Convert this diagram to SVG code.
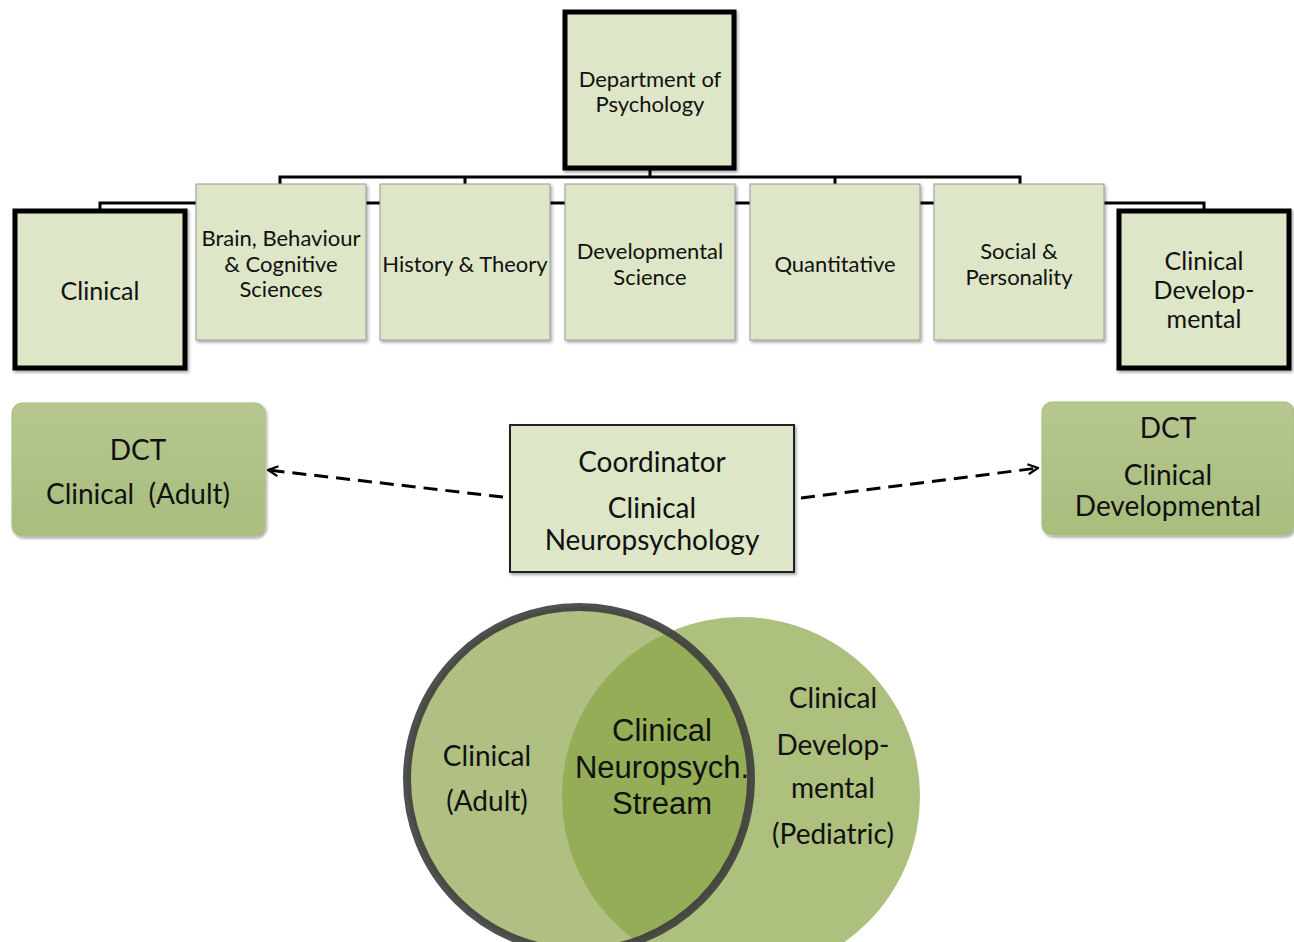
<svg xmlns="http://www.w3.org/2000/svg" width="1294" height="942" viewBox="0 0 1294 942">
<style>
.t{font-family:Lato,"Open Sans","Liberation Sans",sans-serif;fill:#111;text-anchor:middle}
.s20{font-size:22px}
.s22{font-size:25px}
.s24{font-size:28px}
.s26{font-size:28px}
.ar{font-family:"Liberation Sans",Arial,sans-serif;font-size:31px;fill:#111;text-anchor:middle}
.light{fill:#dde6c6;stroke:#9a9a9a;stroke-width:1}
.bold{fill:#dde6c6;stroke:#000;stroke-width:5}
.dct{fill:url(#g1);stroke:#a9bd80;stroke-width:1}
.conn{fill:none;stroke:#000;stroke-width:3}
.dash{fill:none;stroke:#000;stroke-width:3;stroke-dasharray:14 8}
</style>
<defs>
<filter id="sh" x="-10%" y="-10%" width="130%" height="130%">
<feDropShadow dx="1.5" dy="2" stdDeviation="1.5" flood-color="#000" flood-opacity="0.35"/>
</filter>
<linearGradient id="g1" x1="0" y1="0" x2="0" y2="1">
<stop offset="0" stop-color="#b6c78f"/>
<stop offset="1" stop-color="#a9bd7e"/>
</linearGradient>
<marker id="ah" viewBox="0 0 12 12" refX="11" refY="6" markerWidth="12" markerHeight="12" markerUnits="userSpaceOnUse" orient="auto">
<path d="M1,1 L11,6 L1,11" fill="none" stroke="#000" stroke-width="2.2"/>
</marker>
</defs>
<rect width="1294" height="942" fill="#fff"/>
<g id="connectors">
<path class="conn" d="M650,168 V177 M280,184 V177 H1020 V184 M465,177 V184 M835,177 V184"/>
<path class="conn" d="M100,209 V203 H1204 V209"/>
<path class="dash" d="M503,497 L268,470" marker-end="url(#ah)"/>
<path class="dash" d="M801,498 L1038,468" marker-end="url(#ah)"/>
</g>
<g id="dept">
<rect class="bold" x="565" y="12" width="169" height="156" filter="url(#sh)"/>
<text class="t s20" x="650" y="87">Department of</text>
<text class="t s20" x="650" y="112">Psychology</text>
</g>
<g id="clinical">
<rect class="bold" x="15" y="211" width="170" height="157" filter="url(#sh)"/>
<text class="t s22" x="100" y="300">Clinical</text>
</g>
<g id="bbcs">
<rect class="light" x="196" y="184" width="170" height="156" filter="url(#sh)"/>
<text class="t s20" x="281" y="246">Brain, Behaviour</text>
<text class="t s20" x="281" y="272">&amp; Cognitive</text>
<text class="t s20" x="281" y="297">Sciences</text>
</g>
<g id="history">
<rect class="light" x="380" y="184" width="170" height="156" filter="url(#sh)"/>
<text class="t s20" x="465" y="272">History &amp; Theory</text>
</g>
<g id="devsci">
<rect class="light" x="565" y="184" width="170" height="156" filter="url(#sh)"/>
<text class="t s20" x="650" y="259">Developmental</text>
<text class="t s20" x="650" y="285">Science</text>
</g>
<g id="quant">
<rect class="light" x="750" y="184" width="170" height="156" filter="url(#sh)"/>
<text class="t s20" x="835" y="272">Quantitative</text>
</g>
<g id="social">
<rect class="light" x="934" y="184" width="170" height="156" filter="url(#sh)"/>
<text class="t s20" x="1019" y="259">Social &amp;</text>
<text class="t s20" x="1019" y="285">Personality</text>
</g>
<g id="clindev">
<rect class="bold" x="1119" y="211" width="170" height="157" filter="url(#sh)"/>
<text class="t s22" x="1204" y="270">Clinical</text>
<text class="t s22" x="1204" y="299">Develop-</text>
<text class="t s22" x="1204" y="328">mental</text>
</g>
<g id="dct-adult">
<rect class="dct" x="12" y="403" width="253" height="133" rx="10" filter="url(#sh)"/>
<text class="t s24" x="138" y="460">DCT</text>
<text class="t s24" x="138" y="504" xml:space="preserve">Clinical  (Adult)</text>
</g>
<g id="coord">
<rect x="510" y="425" width="284" height="147" fill="#dde6c6" stroke="#222" stroke-width="2" filter="url(#sh)"/>
<text class="t s24" x="652" y="472">Coordinator</text>
<text class="t s24" x="652" y="518">Clinical</text>
<text class="t s24" x="652" y="550">Neuropsychology</text>
</g>
<g id="dct-dev">
<rect class="dct" x="1042" y="402" width="252" height="133" rx="10" filter="url(#sh)"/>
<text class="t s24" x="1168" y="438">DCT</text>
<text class="t s24" x="1168" y="485">Clinical</text>
<text class="t s24" x="1168" y="516">Developmental</text>
</g>
<g id="venn">
<circle cx="579" cy="779" r="172" fill="#8ba44a" fill-opacity="0.69"/>
<circle cx="741" cy="796" r="179" fill="#88a443" fill-opacity="0.69"/>
<circle cx="579" cy="779" r="172" fill="none" stroke="#3d3d3d" stroke-width="8" stroke-opacity="0.9"/>
<text class="t s26" x="487" y="766">Clinical</text>
<text class="t s26" x="487" y="811">(Adult)</text>
<text class="ar" x="662" y="741">Clinical</text>
<text class="ar" x="662" y="778">Neuropsych.</text>
<text class="ar" x="662" y="814">Stream</text>
<text class="t s26" x="833" y="708">Clinical</text>
<text class="t s26" x="833" y="755">Develop-</text>
<text class="t s26" x="833" y="798">mental</text>
<text class="t s26" x="833" y="844">(Pediatric)</text>
</g>
</svg>
